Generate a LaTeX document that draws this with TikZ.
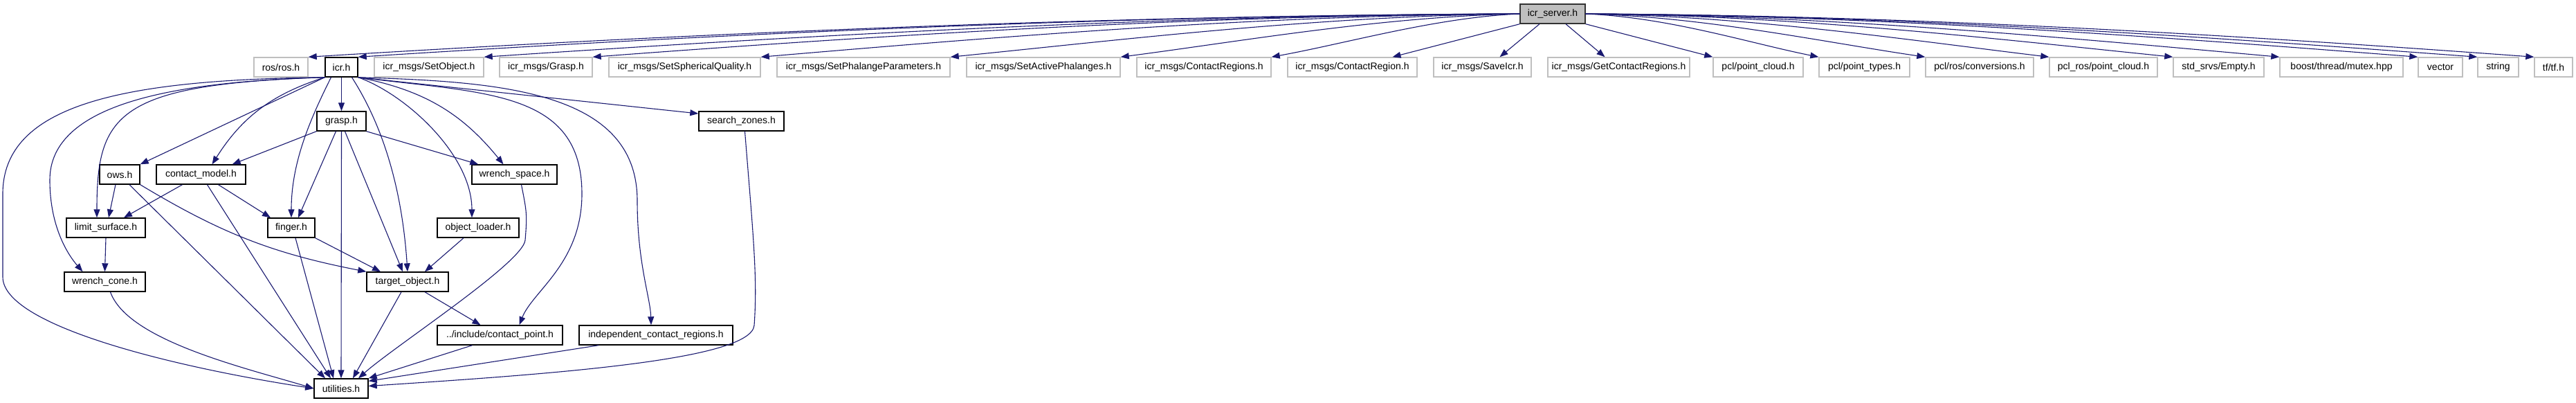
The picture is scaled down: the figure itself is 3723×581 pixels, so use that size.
\documentclass[tikz,border=0pt]{standalone}
\usepackage{fontspec}
\setmainfont{Liberation Sans}
\usetikzlibrary{arrows.meta}

\definecolor{edgeblue}{HTML}{191970}
\definecolor{extgrey}{HTML}{BFBFBF}

\begin{document}
\begin{tikzpicture}[x=1pt, y=-1pt,
    box/.style={draw, line width=1.4pt, minimum height=28pt, inner sep=0pt,
                font=\fontsize{14}{16}\selectfont},
    ext/.style={box, draw=extgrey},
    inc/.style={box, draw=black},
    root/.style={box, draw=black!80, fill=extgrey},
    dep/.style={draw=edgeblue, line width=1.1pt, -{Triangle[length=12pt,width=9pt]}}]

    \useasboundingbox (0,0) rectangle (3723,581);

    % Root header
    \node[root, minimum width=94] (srv) at (2244,20) {icr\_server.h};

    % First row: everything icr_server.h includes
    \node[ext, minimum width=78]  (ros)      at (406,97)    {ros/ros.h};
    \node[inc, minimum width=47]  (icr)      at (493.5,97)  {icr.h};
    \node[ext, minimum width=158] (setobj)   at (620,97)    {icr\_msgs/SetObject.h};
    \node[ext, minimum width=134] (graspmsg) at (789,97)    {icr\_msgs/Grasp.h};
    \node[ext, minimum width=219] (sphq)     at (989.5,97)  {icr\_msgs/SetSphericalQuality.h};
    \node[ext, minimum width=250] (phalpar)  at (1248,97)   {icr\_msgs/SetPhalangeParameters.h};
    \node[ext, minimum width=222] (actphal)  at (1508,97)   {icr\_msgs/SetActivePhalanges.h};
    \node[ext, minimum width=194] (cregs)    at (1740,97)   {icr\_msgs/ContactRegions.h};
    \node[ext, minimum width=187] (creg)     at (1954.5,97) {icr\_msgs/ContactRegion.h};
    \node[ext, minimum width=141] (saveicr)  at (2142.5,97) {icr\_msgs/SaveIcr.h};
    \node[ext, minimum width=205] (getcregs) at (2339.5,97) {icr\_msgs/GetContactRegions.h};
    \node[ext, minimum width=130] (pcloud)   at (2541,97)   {pcl/point\_cloud.h};
    \node[ext, minimum width=131] (ptypes)   at (2694.5,97) {pcl/point\_types.h};
    \node[ext, minimum width=156] (conv)     at (2861,97)   {pcl/ros/conversions.h};
    \node[ext, minimum width=156] (rospcl)   at (3040,97)   {pcl\_ros/point\_cloud.h};
    \node[ext, minimum width=131] (empty)    at (3206.5,97) {std\_srvs/Empty.h};
    \node[ext, minimum width=178] (mutex)    at (3384,97)   {boost/thread/mutex.hpp};
    \node[ext, minimum width=64]  (vector)   at (3527,97)   {vector};
    \node[ext, minimum width=59]  (string)   at (3610.5,97) {string};
    \node[ext, minimum width=55]  (tf)       at (3690.5,97) {tf/tf.h};

    % Headers below icr.h
    \node[inc, minimum width=71]  (grasp)  at (493.5,175) {grasp.h};
    \node[inc, minimum width=123] (szones) at (1071.5,175) {search\_zones.h};
    \node[inc, minimum width=58]  (ows)    at (173,252)   {ows.h};
    \node[inc, minimum width=129] (cmodel) at (290.5,252) {contact\_model.h};
    \node[inc, minimum width=123] (wspace) at (743.5,252) {wrench\_space.h};
    \node[inc, minimum width=114] (lsurf)  at (153,329)   {limit\_surface.h};
    \node[inc, minimum width=68]  (finger) at (421,329)   {finger.h};
    \node[inc, minimum width=118] (oloader) at (691,329)  {object\_loader.h};
    \node[inc, minimum width=117] (wcone)  at (151.5,407) {wrench\_cone.h};
    \node[inc, minimum width=118] (tobj)   at (589,407)   {target\_object.h};
    \node[inc, minimum width=181] (cpoint) at (722.5,484) {../include/contact\_point.h};
    \node[inc, minimum width=222] (icregs) at (948,484)   {independent\_contact\_regions.h};
    \node[inc, minimum width=78]  (util)   at (493,561)   {utilities.h};

    % icr_server.h -> headers on its left
    \draw[dep] (srv.west) .. controls +(-610,2) and +(520,-32) .. (ros.north east);
    \draw[dep] (srv.west) .. controls +(-590,2) and +(500,-32) .. (icr.north east);
    \draw[dep] (srv.west) .. controls +(-520,2) and +(450,-30) .. (setobj.north east);
    \draw[dep] (srv.west) .. controls +(-470,2) and +(400,-30) .. (graspmsg.north east);
    \draw[dep] (srv.west) .. controls +(-380,2) and +(330,-28) .. (sphq.north east);
    \draw[dep] (srv.west) .. controls +(-290,3) and +(250,-25) .. (phalpar.north east);
    \draw[dep] (srv.west) .. controls +(-200,4) and +(170,-22) .. (actphal.north east);
    \draw[dep] (srv.west) .. controls +(-120,5) and +(110,-20) .. (cregs.north east);
    \draw[dep] (srv.south west) -- ([xshift=58pt]creg.north);
    \draw[dep] ([xshift=-19pt]srv.south) -- ([xshift=25pt]saveicr.north);
    \draw[dep] ([xshift=19pt]srv.south) -- ([xshift=-20pt]getcregs.north);

    % icr_server.h -> headers on its right
    \draw[dep] (srv.south east) -- (pcloud.north west);
    \draw[dep] (srv.east) .. controls +(120,5) and +(-100,-20) .. (ptypes.north west);
    \draw[dep] (srv.east) .. controls +(170,4) and +(-150,-22) .. (conv.north west);
    \draw[dep] (srv.east) .. controls +(235,3) and +(-200,-24) .. (rospcl.north west);
    \draw[dep] (srv.east) .. controls +(300,2) and +(-255,-26) .. (empty.north west);
    \draw[dep] (srv.east) .. controls +(350,2) and +(-300,-27) .. (mutex.north west);
    \draw[dep] (srv.east) .. controls +(420,2) and +(-360,-28) .. (vector.north west);
    \draw[dep] (srv.east) .. controls +(450,2) and +(-390,-29) .. (string.north west);
    \draw[dep] (srv.east) .. controls +(480,2) and +(-410,-30) .. (tf.north west);

    % icr.h
    \draw[dep] (icr.south) -- (grasp.north);
    \draw[dep] (icr.south east) -- (szones.170);
    \draw[dep] (icr.south west) -- (ows.north east);
    \draw[dep] (icr.south west) to[bend right=20] ([xshift=16pt]cmodel.north);
    \draw[dep] (icr.south east) to[bend left=20] ([xshift=-16pt]wspace.north);
    \draw[dep] ([xshift=-15pt]icr.south) .. controls +(-30,60) and +(0,-80) .. (finger.north);
    \draw[dep] ([xshift=15pt]icr.south) .. controls +(45,70) and +(-8,-120) .. (tobj.north);
    \draw[dep] (icr.south east) .. controls +(70,25) and +(0,-90) .. ([xshift=-9pt]oloader.north);
    \draw[dep] (icr.south west) .. controls +(-300,10) and +(0,-150) .. ([xshift=-13pt]lsurf.north);
    \draw[dep] (icr.south west) .. controls (250,118) and (72,150) .. (72,260)
        .. controls (72,330) and (100,370) .. ([xshift=-32pt]wcone.north);
    \draw[dep] (icr.south west) .. controls (180,115) and (4,150) .. (4,280) -- (4,400)
        .. controls (4,470) and (250,530) .. (util.west);
    \draw[dep] (icr.south east) .. controls (700,135) and (841,130) .. (841,280)
        .. controls (841,380) and (770,420) .. ([xshift=28pt]cpoint.north);
    \draw[dep] (icr.south east) .. controls (720,118) and (921,130) .. (921,290)
        .. controls (921,380) and (940,430) .. ([xshift=-7pt]icregs.north);

    % grasp.h
    \draw[dep] (grasp.south west) -- ([xshift=-20pt]cmodel.north east);
    \draw[dep] (grasp.south east) -- ([xshift=10pt]wspace.north west);
    \draw[dep] ([xshift=-8pt]grasp.south) -- ([xshift=10pt]finger.north);
    \draw[dep] (grasp.south) -- (util.north);
    \draw[dep] ([xshift=5pt]grasp.south) -- ([xshift=-7pt]tobj.north);

    % ows.h and contact_model.h
    \draw[dep] ([xshift=-6pt]ows.south) -- ([xshift=4pt]lsurf.north);
    \draw[dep] ([xshift=14pt]ows.south) -- ([xshift=-23pt]util.north);
    \draw[dep] (ows.south east) to[bend right=10] (tobj.north west);
    \draw[dep] ([xshift=-27pt]cmodel.south) -- ([xshift=26pt]lsurf.north);
    \draw[dep] ([xshift=9pt]cmodel.south) -- ([xshift=-15pt]util.north);
    \draw[dep] ([xshift=25pt]cmodel.south) -- ([xshift=-30pt]finger.north);

    % lower levels
    \draw[dep] (lsurf.south) -- (wcone.north);
    \draw[dep] ([xshift=8pt]wcone.south) .. controls +(25,70) and +(-100,-30) .. (util.west);
    \draw[dep] ([xshift=6pt]finger.south) -- ([xshift=-11pt]util.north);
    \draw[dep] (finger.south east) -- ([xshift=-39pt]tobj.north);
    \draw[dep] ([xshift=-21pt]oloader.south) -- ([xshift=25pt]tobj.north);
    \draw[dep] ([xshift=-9pt]tobj.south) -- ([xshift=17pt]util.north);
    \draw[dep] ([xshift=25pt]tobj.south) -- ([xshift=-28pt]cpoint.north);
    \draw[dep] ([xshift=10pt]wspace.south) .. controls +(8,40) and (762,310) .. (759,347)
        .. controls (755,380) and (570,500) .. ([xshift=25pt]util.north);
    \draw[dep] ([xshift=-40pt]cpoint.south) -- (util.north east);
    \draw[dep] ([xshift=-83pt]icregs.south) -- (util.15);
    \draw[dep] ([xshift=5pt]szones.south) .. controls +(12,150) and (1095,400) .. (1090,470)
        .. controls (1085,520) and (800,540) .. (util.5);

\end{tikzpicture}
\end{document}
